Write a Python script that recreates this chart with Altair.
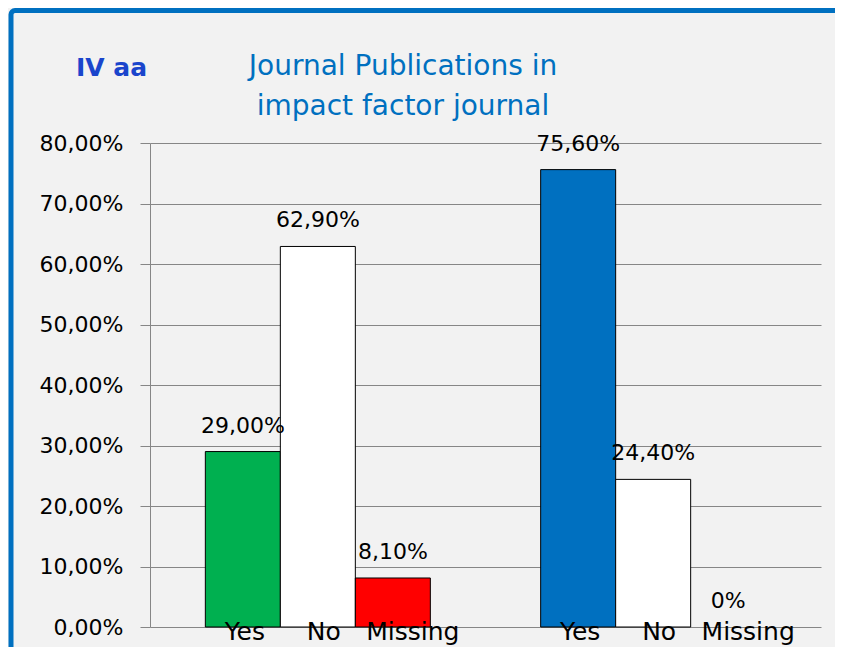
import altair as alt
import pandas as pd

# ---- data ----
groups = ["Group 1", "Group 1", "Group 1", "Group 2", "Group 2", "Group 2"]
answers = ["Yes", "No", "Missing", "Yes", "No", "Missing"]
values = [0.29, 0.629, 0.081, 0.756, 0.244, 0.0]
answer_order = ["Yes", "No", "Missing"]
y_ticks = [0.0, 0.1, 0.2, 0.3, 0.4, 0.5, 0.6, 0.7, 0.8]
title_lines = ["Journal Publications in", "impact factor journal"]
corner_label = "IV aa"

# ---- styles ----
bar_keys = [g + " " + a for g, a in zip(groups, answers)]
bar_colors = ["#00b050", "#ffffff", "#ff0000", "#0070c0", "#ffffff", "#ffffff"]
label_dx = {"Yes": 2, "No": 6, "Missing": 20}
FONT = "DejaVu Sans"
GRID = "#868686"

df = pd.DataFrame({"group": groups, "answer": answers, "value": values, "key": bar_keys})

base = alt.Chart(df).transform_calculate(
    label="datum.value == 0 ? '0%' : replace(format(datum.value, '.2%'), '.', ',')"
)

x_enc = alt.X("group:N", axis=None, scale=alt.Scale(paddingInner=0.329, paddingOuter=0.165))
xo_enc = alt.XOffset("answer:N", sort=answer_order, scale=alt.Scale(paddingInner=0, paddingOuter=0))
y_enc = alt.Y(
    "value:Q",
    scale=alt.Scale(domain=[0, 0.8], nice=False),
    axis=alt.Axis(
        values=y_ticks,
        labelExpr="replace(format(datum.value, '.2%'), '.', ',')",
        title=None,
        grid=True,
        gridColor=GRID,
        gridWidth=1,
        domainColor=GRID,
        domainWidth=1,
        tickColor=GRID,
        tickSize=10,
        labelFontSize=22,
        labelFont=FONT,
        labelColor="black",
        labelPadding=17,
    ),
)

bars = base.mark_bar(stroke="black").encode(
    x=x_enc,
    xOffset=xo_enc,
    y=y_enc,
    color=alt.Color("key:N", scale=alt.Scale(domain=bar_keys, range=bar_colors), legend=None),
    strokeWidth=alt.condition("datum.value > 0", alt.value(1), alt.value(0)),
)

value_labels = base.mark_text(
    baseline="alphabetic", dy=-19, fontSize=22, font=FONT, color="black"
).encode(x=x_enc, xOffset=xo_enc, y=alt.Y("value:Q"), text="label:N")

cat_layers = []
for a in answer_order:
    cat_layers.append(
        base.transform_filter(alt.datum.answer == a)
        .mark_text(baseline="alphabetic", dy=13, dx=label_dx[a], fontSize=25, font=FONT, color="black")
        .encode(x=x_enc, xOffset=xo_enc, y=alt.datum(0), text="answer:N")
    )

border = alt.Chart(alt.Data(values=[{}])).mark_rect(
    filled=False, stroke="#0070c0", strokeWidth=5, cornerRadius=4
).encode(x=alt.value(-139), x2=alt.value(700), y=alt.value(-132.5), y2=alt.value(600))

corner = alt.Chart(alt.Data(values=[{"t": corner_label}])).mark_text(
    align="left", baseline="middle", fontSize=25, fontWeight="bold", font=FONT, color="#1a45cc"
).encode(text="t:N", x=alt.value(-74), y=alt.value(-75))

title_layers = []
for i, line in enumerate(title_lines):
    title_layers.append(
        alt.Chart(alt.Data(values=[{"t": line}])).mark_text(
            align="center", baseline="alphabetic", fontSize=28, font=FONT, color="#0070c0"
        ).encode(text="t:N", x=alt.value(253), y=alt.value(-68 + 40 * i))
    )

chart = alt.layer(border, bars, value_labels, *cat_layers, corner, *title_layers).properties(
    width=671,
    height=484,
    autosize=alt.AutoSizeParams(type="none"),
    padding={"left": 142, "top": 135, "right": 14, "bottom": 20},
    background="#f2f2f2",
).configure_view(strokeWidth=0)

chart.save("out.html", embed_options={"renderer": "svg", "actions": False})
